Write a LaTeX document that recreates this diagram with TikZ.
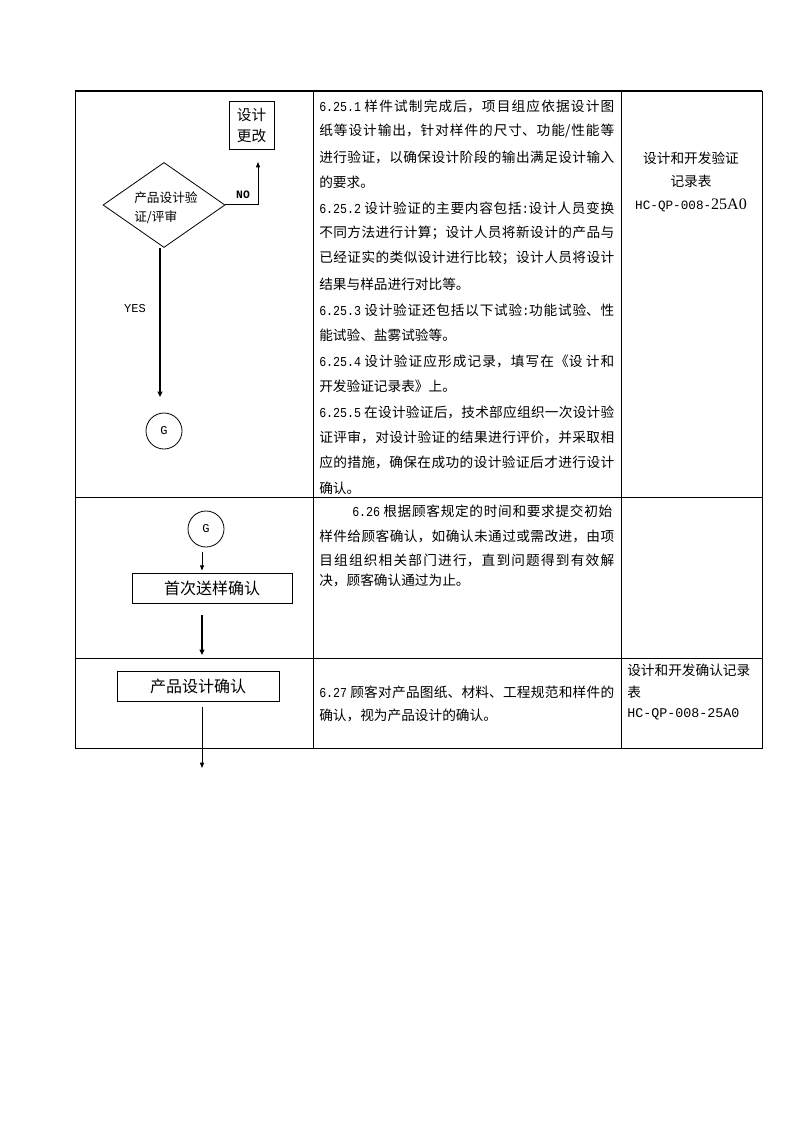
\documentclass[tikz,border=0pt]{standalone}
\usepackage{fontspec}
\setmainfont{Noto Sans CJK SC}
\newfontfamily\lat{Liberation Mono}
\newfontfamily\latn[FakeStretch=0.85]{Liberation Mono}
\newfontfamily\tnr{Liberation Serif}
\usetikzlibrary{shapes.geometric,arrows.meta}
\XeTeXlinebreaklocale "zh"
\XeTeXlinebreakskip=0pt plus 4pt minus 0.3pt
\newcommand{\fline}[2][221.25pt]{\parbox{#1}{\hbadness=10000\parfillskip=0pt\relax #2\par}}
\newcommand{\dg}[1]{{\latn\fontsize{10.25pt}{12pt}\selectfont #1}}
\begin{document}
\begin{tikzpicture}[x=0.75pt,y=-0.75pt,
  grid/.style={line width=0.75pt},
  topline/.style={line width=1.5pt},
  txt/.style={anchor=west,inner sep=0pt,font=\fontsize{10.25pt}{12pt}\selectfont},
  ctxt/.style={inner sep=0pt,font=\fontsize{10.25pt}{12pt}\selectfont},
  fbox/.style={draw,line width=0.6pt,inner sep=0pt},
  arr/.style={-{Triangle[length=4pt,width=3pt]},line width=0.75pt},
  arrthick/.style={-{Triangle[length=4pt,width=3.5pt]},line width=1.5pt},
  lbl/.style={inner sep=0pt,font=\lat\fontsize{9pt}{10pt}\selectfont}]
\useasboundingbox (0,0) rectangle (794,1123);
% table
\draw[topline] (75,91) -- (762,91);
\draw[grid] (75,91) -- (75,748) -- (762,748) -- (762,91);
\draw[grid] (313,91) -- (313,748);
\draw[grid] (621,91) -- (621,748);
\draw[grid] (75,497) -- (762,497);
\draw[grid] (75,658) -- (762,658);
% ---------- row 1 flow ----------
\node[fbox,minimum width=33.75pt,minimum height=36pt,align=center,
  font=\fontsize{11pt}{15.75pt}\selectfont] (chg) at (251.5,125) {设计\\更改};
\node[diamond,draw,line width=0.6pt,minimum width=91.5pt,minimum height=63.75pt,inner sep=0pt] (dia) at (164,205) {};
\node[anchor=west,inner sep=0pt,align=left,font=\fontsize{9.5pt}{14.25pt}\selectfont] (diatxt) at (134,207.5) {产品设计验\\证/评审};
\coordinate (noturn) at (258,205);
\coordinate (noend) at (258,162);
\draw[arr] (dia.east) -- (noturn) -- (noend);
\node[lbl,font=\lat\bfseries\fontsize{8.5pt}{10pt}\selectfont] (no) at (243,195) {NO};
\coordinate (xyes) at (160,0);
\coordinate (yesend) at (160,397);
\draw[arrthick] (dia.south -| xyes) -- (yesend);
\node[lbl] (yes) at (135,309) {YES};
\node[circle,draw,line width=0.6pt,minimum size=27pt,inner sep=0pt,font=\lat\fontsize{9pt}{10pt}\selectfont] (g1) at (164,431) {G};
% ---------- row 1 text ----------
\node[txt] (t1) at (319,106) {\fline{\dg{6.25.1} 样件试制完成后，项目组应依据设计图}};
\node[txt] (t2) at (319,131) {\fline{纸等设计输出，针对样件的尺寸、功能/性能等}};
\node[txt] (t3) at (319,157) {\fline{进行验证，以确保设计阶段的输出满足设计输入}};
\node[txt] (t4) at (319,182) {的要求。};
\node[txt] (t5) at (319,208) {\fline{\dg{6.25.2} 设计验证的主要内容包括\dg{:}设计人员变换}};
\node[txt] (t6) at (319,233) {\fline{不同方法进行计算；设计人员将新设计的产品与}};
\node[txt] (t7) at (319,258) {\fline{已经证实的类似设计进行比较；设计人员将设计}};
\node[txt] (t8) at (319,284) {结果与样品进行对比等。};
\node[txt] (t9) at (319,310) {\fline{\dg{6.25.3} 设计验证还包括以下试验\dg{:}功能试验、性}};
\node[txt] (t10) at (319,335) {能试验、盐雾试验等。};
\node[txt] (t11) at (319,361) {\fline{\dg{6.25.4} 设计验证应形成记录，填写在《设 计和}};
\node[txt] (t12) at (319,386) {开发验证记录表》上。};
\node[txt] (t13) at (319,412) {\fline{\dg{6.25.5} 在设计验证后，技术部应组织一次设计验}};
\node[txt] (t14) at (319,437) {\fline{证评审，对设计验证的结果进行评价，并采取相}};
\node[txt] (t15) at (319,462) {\fline{应的措施，确保在成功的设计验证后才进行设计}};
\node[txt] (t16) at (319,488) {确认。};
% row 1 col 3
\node[ctxt] (r1a) at (691,158) {设计和开发验证};
\node[ctxt] (r1b) at (691,181) {记录表};
\node[ctxt] (r1c) at (691,205) {{\lat\fontsize{9.5pt}{11pt}\selectfont HC-QP-008-}{\tnr\fontsize{12pt}{14pt}\selectfont 25A0}};
% ---------- row 2 ----------
\node[circle,draw,line width=0.6pt,minimum size=27pt,inner sep=0pt,font=\lat\fontsize{9pt}{10pt}\selectfont] (g2) at (206,529) {G};
\node[fbox,minimum width=120pt,minimum height=22.5pt,font=\fontsize{12pt}{14pt}\selectfont] (b1) at (212,588) {首次送样确认};
\coordinate (xa) at (202,0);
\draw[arr,shorten <=3.5pt,shorten >=1.5pt] (g2.south -| xa) -- (b1.north -| xa);
\coordinate (a2end) at (202,655);
\draw[arrthick,shorten <=9pt] (b1.south -| xa) -- (a2end);
\node[txt] (u1) at (352,511) {\fline[195pt]{\dg{6.26} 根据顾客规定的时间和要求提交初始}};
\node[txt] (u2) at (319,536) {\fline{样件给顾客确认，如确认未通过或需改进，由项}};
\node[txt] (u3) at (319,560) {\fline{目组组织相关部门进行，直到问题得到有效解}};
\node[txt] (u4) at (319,580) {决，顾客确认通过为止。};
% ---------- row 3 ----------
\node[fbox,minimum width=121.5pt,minimum height=22.5pt,font=\fontsize{12pt}{14pt}\selectfont] (b2) at (198,686) {产品设计确认};
\coordinate (a3end) at (202,768);
\draw[arr,shorten <=4.5pt] (b2.south -| xa) -- (a3end);
\node[txt] (v1) at (319,692) {\fline{\dg{6.27} 顾客对产品图纸、材料、工程规范和样件的}};
\node[txt] (v2) at (319,715) {确认，视为产品设计的确认。};
\node[txt] (w1) at (627,670) {设计和开发确认记录};
\node[txt] (w2) at (627,692) {表};
\node[txt] (w3) at (627,714) {\lat\fontsize{10pt}{11pt}\selectfont HC-QP-008-25A0};
\end{tikzpicture}
\end{document}
